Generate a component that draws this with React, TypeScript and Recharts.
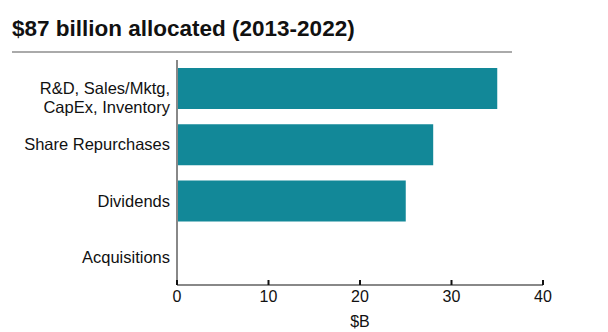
import React from 'react';
import { BarChart, Bar, XAxis, YAxis } from 'recharts';

const categories = ['R&D, Sales/Mktg,\nCapEx, Inventory', 'Share Repurchases', 'Dividends', 'Acquisitions'];
const amounts = [35, 28, 25, 0];
const xTicks = [0, 10, 20, 30, 40];

const data = categories.map((name, i) => ({ name, value: amounts[i] }));

const FONT = '"Liberation Sans", Arial, Helvetica, sans-serif';
const TEAL = '#128898';

const CategoryTick = (props: any) => {
  const { x, y, payload } = props;
  const lines = String(payload.value).split('\n');
  return (
    <text x={x - 7} y={y} textAnchor="end" fill="#111" fontSize={16.5} fontFamily={FONT}>
      {lines.map((line, i) => (
        <tspan key={i} x={x - 7} dy={i === 0 ? 6 : 19}>
          {line}
        </tspan>
      ))}
    </text>
  );
};

const ValueTick = (props: any) => {
  const { x, y, payload } = props;
  return (
    <g>
      <line x1={x} x2={x} y1={y} y2={y - 5} stroke="#111" strokeWidth={2} />
      <text x={x} y={y + 17} textAnchor="middle" fill="#111" fontSize={16} fontFamily={FONT}>
        {payload.value}
      </text>
    </g>
  );
};

export default function App() {
  return (
    <div style={{ position: 'absolute', left: 0, top: 0, width: 608, height: 332, background: '#fff', fontFamily: FONT }}>
      <div
        style={{
          position: 'absolute',
          left: 12,
          top: 15,
          fontSize: 22.5,
          fontWeight: 700,
          color: '#111',
          lineHeight: '28px',
          whiteSpace: 'nowrap',
        }}
      >
        $87 billion allocated (2013-2022)
      </div>
      <div style={{ position: 'absolute', left: 12, top: 51, width: 500, height: 2, background: '#aaa' }} />
      <div style={{ position: 'absolute', left: 0, top: 0 }}>
        <BarChart
          width={608}
          height={332}
          data={data}
          layout="vertical"
          margin={{ top: 60, right: 65, bottom: 0, left: 0 }}
          barSize={41}
        >
          <XAxis
            type="number"
            domain={[0, 40]}
            ticks={xTicks}
            height={47}
            tickSize={0}
            tickMargin={0}
            tickLine={false}
            axisLine={{ stroke: '#888', strokeWidth: 2 }}
            tick={<ValueTick />}
            label={{ value: '$B', position: 'insideBottom', offset: 5, fill: '#111', fontSize: 16, fontFamily: FONT }}
          />
          <YAxis
            type="category"
            dataKey="name"
            width={177}
            tickSize={0}
            tickMargin={0}
            tickLine={false}
            axisLine={{ stroke: '#888', strokeWidth: 2 }}
            tick={<CategoryTick />}
            interval={0}
          />
          <Bar dataKey="value" fill={TEAL} isAnimationActive={false} />
        </BarChart>
      </div>
    </div>
  );
}
